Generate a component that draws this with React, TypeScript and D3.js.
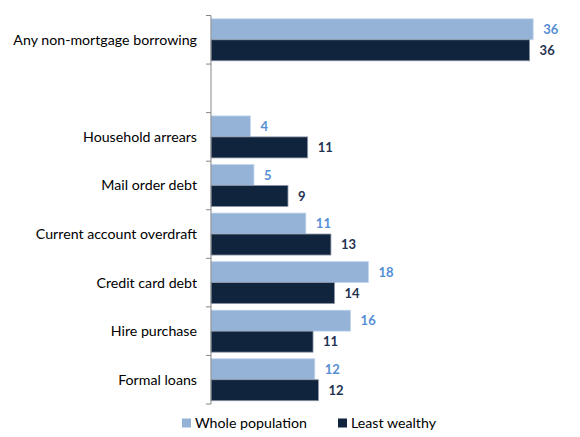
import { useEffect, useRef } from "react";
import * as d3 from "d3";

// categories top to bottom ("" = empty spacer row)
const categories = [
  "Any non-mortgage borrowing",
  "",
  "Household arrears",
  "Mail order debt",
  "Current account overdraft",
  "Credit card debt",
  "Hire purchase",
  "Formal loans",
];
const seriesNames = ["Whole population", "Least wealthy"];
// labels show rounded values
const wholePopulation = [36.0, NaN, 4.4, 4.8, 10.6, 17.6, 15.6, 11.6];
const leastWealthy = [35.6, NaN, 10.8, 8.6, 13.4, 13.8, 11.4, 12.0];

const COLORS = ["#95B3D7", "#10243E"];
const LABEL_COLORS = ["#558ED5", "#1F3352"];

export default function App() {
  const ref = useRef<SVGSVGElement | null>(null);

  useEffect(() => {
    const svgEl = ref.current;
    if (!svgEl) return;
    const width = 580;
    const height = 437;
    const svg = d3.select(svgEl);
    svg.selectAll("*").remove();
    svg.attr("width", width).attr("height", height);

    const keys = categories.map((c, i) => `${i}`);
    const x0 = 211;
    const x = d3.scaleLinear().domain([0, 40]).range([x0, x0 + 358]);
    const y = d3.scaleBand<string>().domain(keys).range([15.5, 404]).padding(0);
    const y1 = d3
      .scaleBand<string>()
      .domain(seriesNames)
      .range([0, y.bandwidth()])
      .paddingInner(0)
      .paddingOuter(0.156);

    const font = "Lato, 'Liberation Sans', sans-serif";
    const series = [wholePopulation, leastWealthy];

    // ------- bars -------
    series.forEach((vals, si) => {
      const rows = keys
        .map((k, i) => ({ k, v: vals[i] }))
        .filter((d) => !isNaN(d.v));
      svg
        .append("g")
        .selectAll("rect")
        .data(rows)
        .enter()
        .append("rect")
        .attr("x", x(0))
        .attr("y", (d) => y(d.k)! + y1(seriesNames[si])!)
        .attr("width", (d) => x(d.v) - x(0))
        .attr("height", y1.bandwidth())
        .attr("fill", COLORS[si])
        .attr("stroke", si === 0 ? "#C6D9F1" : "#8C96A6")
        .attr("stroke-width", 0.8);

      svg
        .append("g")
        .selectAll("text")
        .data(rows)
        .enter()
        .append("text")
        .attr("x", (d) => x(d.v) + 10)
        .attr("y", (d) => y(d.k)! + y1(seriesNames[si])! + y1.bandwidth() / 2)
        .attr("dy", "0.36em")
        .attr("font-family", font)
        .attr("font-size", 13)
        .attr("font-weight", "bold")
        .attr("fill", LABEL_COLORS[si])
        .text((d) => Math.round(d.v));
    });

    // ------- axis line + ticks at band edges -------
    const axis = svg.append("g").attr("stroke", "#868686").attr("stroke-width", 1);
    const [r0, r1] = y.range();
    axis.append("line").attr("x1", x0).attr("x2", x0).attr("y1", r0).attr("y2", r1);
    const edges = keys.map((k) => y(k)!).concat([r1]);
    axis
      .selectAll("line.tick")
      .data(edges)
      .enter()
      .append("line")
      .attr("class", "tick")
      .attr("x1", x0 - 5)
      .attr("x2", x0)
      .attr("y1", (d) => d)
      .attr("y2", (d) => d);

    // ------- category labels -------
    svg
      .append("g")
      .selectAll("text")
      .data(keys)
      .enter()
      .append("text")
      .attr("x", 197)
      .attr("y", (k) => y(k)! + y.bandwidth() / 2)
      .attr("dy", "0.35em")
      .attr("text-anchor", "end")
      .attr("font-family", font)
      .attr("font-size", 14.2)
      .attr("fill", "#000")
      .text((k) => categories[+k]);

    // ------- legend -------
    const legendX = [182, 338];
    const lg = svg.append("g");
    seriesNames.forEach((name, i) => {
      lg.append("rect")
        .attr("x", legendX[i])
        .attr("y", 418.5)
        .attr("width", 9)
        .attr("height", 9)
        .attr("fill", COLORS[i]);
      lg.append("text")
        .attr("x", legendX[i] + 13)
        .attr("y", 423)
        .attr("dy", "0.35em")
        .attr("font-family", font)
        .attr("font-size", 14.2)
        .attr("fill", "#000")
        .text(name);
    });
  }, []);

  return (
    <svg
      ref={ref}
      style={{ position: "absolute", left: 0, top: 0, background: "#fff" }}
    />
  );
}
